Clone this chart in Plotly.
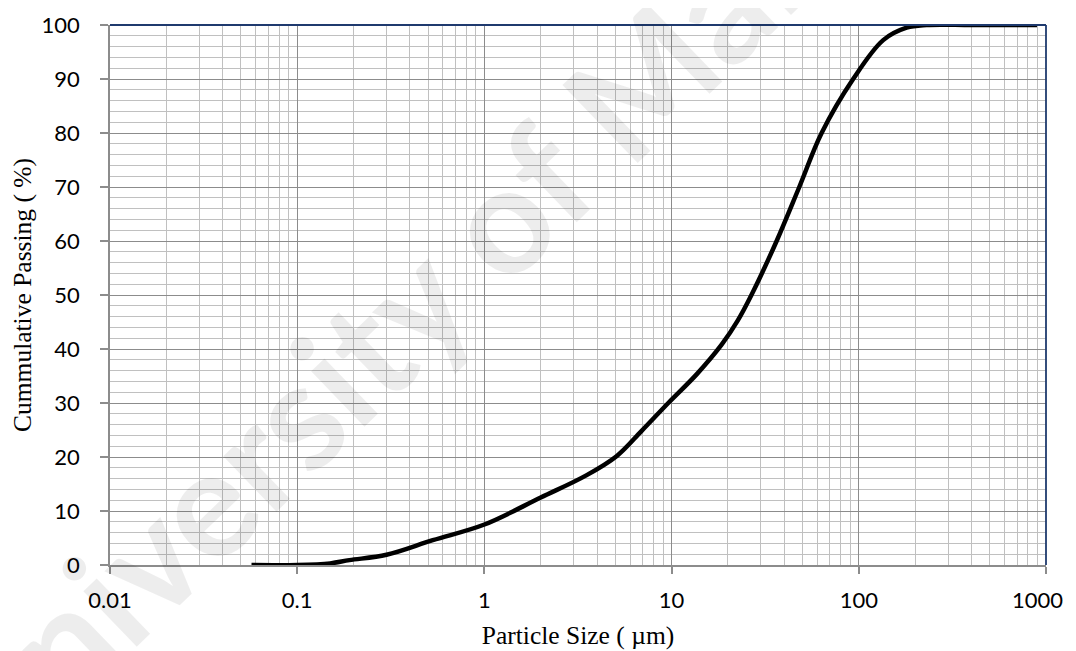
import plotly.graph_objects as go

particle_size = [0.057, 0.1, 0.15, 0.19, 0.3, 0.53, 1, 2, 3.5, 5.1, 6.9, 9.6, 13.6, 18.5, 22.5, 26.7, 36.4, 48.1, 63.3, 93.3, 135, 180, 230, 400, 895]
cum_passing = [0, 0, 0.3, 0.9, 1.9, 4.6, 7.5, 12.5, 16.6, 20.2, 24.8, 30, 35.3, 40.8, 45.2, 50, 60, 70, 80, 90, 97.2, 99.5, 100, 100, 100]

x_ticks = [0.01, 0.1, 1, 10, 100, 1000]
x_labels = ["0.01", "0.1", "1", "10", "100", "1000"]

# last label nudged left (trailing non-breaking spaces) so it stays inside the window
x_ticktext = x_labels[:-1] + [x_labels[-1] + "\u00a0\u00a0\u00a0"]

fig = go.Figure()
fig.add_trace(go.Scatter(x=particle_size, y=cum_passing, mode="lines",
                         line=dict(color="black", width=4.5, shape="spline", smoothing=1.0),
                         showlegend=False))

tickfont = dict(family="Lato, Open Sans, sans-serif", size=22, color="black")
titlefont = dict(family="Liberation Serif, Times New Roman, serif", size=25.5, color="black")

fig.update_xaxes(type="log", range=[-2, 3], tickvals=x_ticks, ticktext=x_ticktext,
                 showgrid=True, gridcolor="#8c8c8c", gridwidth=1.2,
                 minor=dict(dtick="D1", showgrid=True, gridcolor="#c0c0c0", gridwidth=1.2, ticks=""),
                 showline=True, linecolor="#8c8c8c", linewidth=1.5,
                 ticks="outside", ticklen=7, tickcolor="#8c8c8c", tickwidth=1.5,
                 ticklabelstandoff=8, ticklabeloverflow="allow", automargin=False,
                 tickfont=tickfont, zeroline=False,
                 title=dict(text="Particle Size ( \u00b5m)", font=titlefont, standoff=14))
fig.update_yaxes(range=[0, 100], dtick=10, tick0=0,
                 showgrid=True, gridcolor="#8c8c8c", gridwidth=1.2,
                 minor=dict(dtick=2, showgrid=True, gridcolor="#c0c0c0", gridwidth=1.2, ticks=""),
                 showline=True, linecolor="#8c8c8c", linewidth=1.5,
                 ticks="outside", ticklen=8, tickcolor="#8c8c8c", tickwidth=1.5,
                 ticklabelstandoff=16, ticklabeloverflow="allow", automargin=False,
                 tickfont=tickfont, zeroline=False,
                 title=dict(text="Cummulative Passing ( %)", font=titlefont, standoff=8))

# top and right border (dark blue)
fig.add_shape(type="line", xref="paper", yref="paper", x0=0, x1=1, y0=1, y1=1,
              line=dict(color="#1f3a6e", width=1.8))
fig.add_shape(type="line", xref="paper", yref="paper", x0=1, x1=1, y0=0, y1=1,
              line=dict(color="#1f3a6e", width=1.8))

# watermark
fig.add_annotation(text="<b>University of Malaya</b>", xref="paper", yref="paper",
                   x=0.355, y=0.545, showarrow=False, textangle=-44,
                   font=dict(family="Lato, Liberation Sans, sans-serif", size=150,
                             color="rgba(0,0,0,0.07)"))

fig.update_layout(width=1068, height=643, plot_bgcolor="white", paper_bgcolor="white",
                  margin=dict(l=102, r=30, t=17, b=86))

fig.write_html("out.html")
